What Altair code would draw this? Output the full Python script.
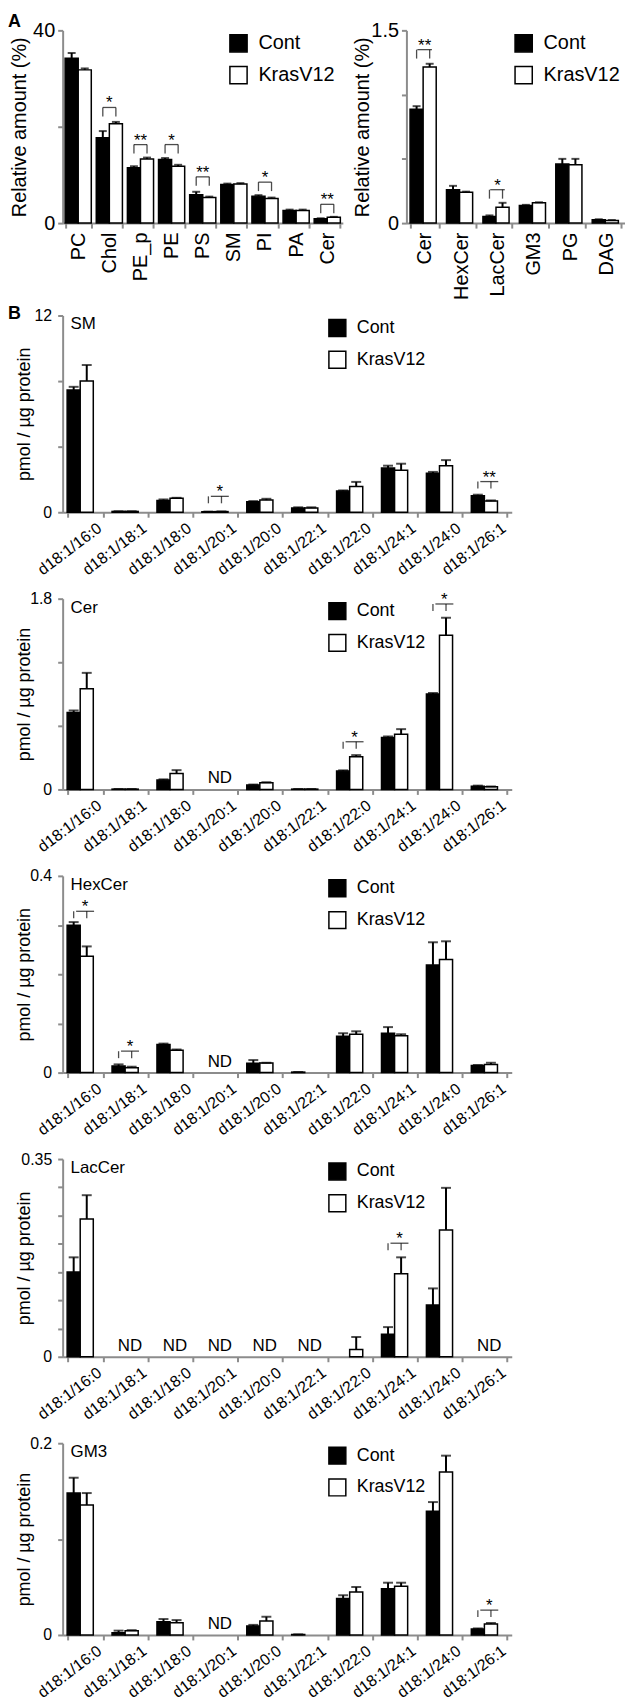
import altair as alt
import pandas as pd

FONT = "Liberation Sans"
GROUPS = ["Cont", "KrasV12"]

# ---------------- Panel A (left) ----------------
a1_cats = ["PC", "Chol", "PE_p", "PE", "PS", "SM", "PI", "PA", "Cer"]
a1_cont = [34.2, 17.7, 11.5, 13.2, 5.9, 8.0, 5.6, 2.6, 0.9]
a1_cont_err = [35.3, 19.1, 11.8, 13.5, 6.5, 8.2, 5.8, 2.8, 1.0]
a1_kras = [31.8, 20.6, 13.3, 11.8, 5.3, 8.1, 5.1, 2.6, 1.2]
a1_kras_err = [32.1, 21.0, 13.6, 12.1, 5.5, 8.3, 5.3, 2.8, 1.3]
a1_sig_cats = ["Chol", "PE_p", "PE", "PS", "PI", "Cer"]
a1_sig_y = [24.0, 16.3, 16.3, 9.6, 8.5, 3.9]
a1_sig_txt = ["*", "**", "*", "**", "*", "**"]

# ---------------- Panel A (right) ----------------
a2_cats = ["Cer", "HexCer", "LacCer", "GM3", "PG", "DAG"]
a2_cont = [0.887, 0.26, 0.052, 0.137, 0.46, 0.026]
a2_cont_err = [0.91, 0.29, 0.06, 0.142, 0.50, 0.03]
a2_kras = [1.215, 0.24, 0.124, 0.158, 0.455, 0.02]
a2_kras_err = [1.24, 0.245, 0.158, 0.162, 0.50, 0.024]
a2_sig_cats = ["Cer", "LacCer"]
a2_sig_y = [1.35, 0.26]
a2_sig_txt = ["**", "*"]

# ---------------- Panel B ----------------
b_cats = ["d18:1/16:0", "d18:1/18:1", "d18:1/18:0", "d18:1/20:1", "d18:1/20:0",
          "d18:1/22:1", "d18:1/22:0", "d18:1/24:1", "d18:1/24:0", "d18:1/26:1"]

sm_cont = [7.45, 0.05, 0.72, 0.03, 0.64, 0.26, 1.29, 2.70, 2.38, 1.00]
sm_cont_err = [7.65, 0.06, 0.78, 0.04, 0.68, 0.30, 1.33, 2.84, 2.46, 1.07]
sm_kras = [8.01, 0.05, 0.85, 0.04, 0.74, 0.26, 1.57, 2.56, 2.84, 0.68]
sm_kras_err = [8.98, 0.06, 0.88, 0.05, 0.82, 0.30, 1.85, 2.96, 3.18, 0.72]
sm_sig_cats = ["d18:1/20:1", "d18:1/26:1"]
sm_sig_y = [0.97, 1.87]
sm_sig_txt = ["*", "**"]
sm_nd = []

cer_cont = [0.726, 0.003, 0.088, None, 0.041, 0.003, 0.173, 0.49, 0.90, 0.031]
cer_cont_err = [0.745, 0.004, 0.095, None, 0.046, 0.004, 0.18, 0.50, 0.91, 0.036]
cer_kras = [0.949, 0.003, 0.151, None, 0.063, 0.003, 0.308, 0.52, 1.455, 0.025]
cer_kras_err = [1.10, 0.004, 0.182, None, 0.068, 0.004, 0.324, 0.569, 1.62, 0.028]
cer_sig_cats = ["d18:1/22:0", "d18:1/24:0"]
cer_sig_y = [0.45, 1.75]
cer_sig_txt = ["*", "*"]
cer_nd = ["d18:1/20:1"]

hex_cont = [0.2995, 0.0134, 0.057, None, 0.0188, 0.001, 0.0737, 0.080, 0.219, 0.0147]
hex_cont_err = [0.306, 0.0167, 0.059, None, 0.0255, 0.0012, 0.080, 0.0925, 0.265, 0.0155]
hex_kras = [0.2365, 0.010, 0.0456, None, 0.0194, None, 0.078, 0.075, 0.23, 0.0167]
hex_kras_err = [0.2566, 0.012, 0.047, None, 0.020, None, 0.084, 0.078, 0.267, 0.020]
hex_sig_cats = ["d18:1/16:0", "d18:1/18:1"]
hex_sig_y = [0.328, 0.0435]
hex_sig_txt = ["*", "*"]
hex_nd = ["d18:1/20:1"]

lac_cont = [0.150, None, None, None, None, None, None, 0.040, 0.0916, None]
lac_cont_err = [0.176, None, None, None, None, None, None, 0.0525, 0.121, None]
lac_kras = [0.244, None, None, None, None, None, 0.0128, 0.147, 0.2246, None]
lac_kras_err = [0.286, None, None, None, None, None, 0.035, 0.176, 0.299, None]
lac_sig_cats = ["d18:1/24:1"]
lac_sig_y = [0.201]
lac_sig_txt = ["*"]
lac_nd = ["d18:1/18:1", "d18:1/18:0", "d18:1/20:1", "d18:1/20:0", "d18:1/22:1", "d18:1/26:1"]

gm3_cont = [0.148, 0.0024, 0.0138, None, 0.0093, 0.0005, 0.038, 0.0483, 0.129, 0.0062]
gm3_cont_err = [0.164, 0.0045, 0.0166, None, 0.0105, 0.0006, 0.0414, 0.0545, 0.1386, 0.0068]
gm3_kras = [0.1355, 0.0045, 0.0128, None, 0.0145, None, 0.0448, 0.0507, 0.170, 0.0114]
gm3_kras_err = [0.148, 0.005, 0.0155, None, 0.019, None, 0.05, 0.0545, 0.187, 0.0125]
gm3_sig_cats = ["d18:1/26:1"]
gm3_sig_y = [0.0259]
gm3_sig_txt = ["*"]
gm3_nd = ["d18:1/20:1"]

AXIS_GRAY = "#8c8c8c"
LEFT_EDGE = -55


def build_panel(cats, cont, cont_err, kras, kras_err, sig_cats, sig_y, sig_txt, nd_cats,
                ymax, yticks, ytitle, name, letter, st):
    rows = []
    for i, c in enumerate(cats):
        for g, v, e in ((GROUPS[0], cont[i], cont_err[i]), (GROUPS[1], kras[i], kras_err[i])):
            if v is not None:
                rows.append({"cat": c, "group": g, "value": v, "err": e})
    bars_df = pd.DataFrame(rows)
    n = len(cats)
    pad = st["pad"]
    step = st["width"] / n
    barw = step * (1 - pad) / 2
    own_labels = st.get("own_labels", False)

    x_axis = alt.Axis(title=None, tickBand="extent", labelAngle=st["xangle"], labelAlign="right",
                      labelBaseline=st["xbaseline"], labelFontSize=st["xfs"],
                      labelPadding=st["xlabpad"], labelColor="black", tickSize=5,
                      labels=not own_labels, labelOverlap=False, labelLimit=300)
    xenc = alt.X("cat:N", sort=cats,
                 scale=alt.Scale(domain=cats, paddingInner=pad, paddingOuter=pad / 2),
                 axis=x_axis)
    xoff = alt.XOffset("group:N", sort=GROUPS,
                       scale=alt.Scale(domain=GROUPS, paddingInner=0, paddingOuter=0))
    y_axis = alt.Axis(title=ytitle, values=yticks, format="~r",
                      labelExpr=f"datum.value == 0 || abs(datum.value - {ymax}) < 1e-9 ? datum.label : ''",
                      labelFontSize=st["yfs"], titleFontSize=st["tfs"], titleFontWeight="normal",
                      titleColor="black", labelColor="black", tickSize=5,
                      labelPadding=st["ylabpad"], minExtent=st["yext"], maxExtent=st["yext"],
                      titlePadding=st["tpad"])
    yscale = alt.Scale(domain=[0, ymax], nice=False, zero=True)

    def Y(field):
        return alt.Y(f"{field}:Q", scale=yscale, axis=y_axis)

    fill = alt.Fill("group:N", sort=GROUPS,
                    scale=alt.Scale(domain=GROUPS, range=["black", "white"]),
                    legend=alt.Legend(title=None, orient="none", legendX=st["lx"], legendY=st["ly"],
                                      direction="vertical", symbolType="square",
                                      symbolSize=st["ssize"], symbolStrokeColor="black",
                                      symbolStrokeWidth=1.5, labelFontSize=st["lfs"],
                                      labelColor="black", labelOffset=10, rowPadding=st["rowpad"],
                                      padding=0, labelLimit=300))

    base = alt.Chart(bars_df)
    bars = base.mark_bar(stroke="black", strokeWidth=1.5).encode(
        x=xenc, xOffset=xoff, y=Y("value"), fill=fill)
    errs = base.mark_rule(color="black", strokeWidth=2).encode(
        x=xenc, xOffset=xoff, y=Y("value"), y2=alt.Y2("err:Q"))
    caps = base.mark_tick(color="black", thickness=2, size=st["cap"]).encode(
        x=xenc, xOffset=xoff, y=Y("err"))
    layers = [bars, errs, caps]

    if own_labels:
        # angled category labels, anchored just right of each band centre
        lab_df = pd.DataFrame({"cat": cats})
        xl = alt.Chart(lab_df).mark_text(
            angle=st["xangle"], align="right", baseline="top", fontSize=st["xfs"],
            xOffset=st["xoff"], color="black").encode(
            x=xenc, y=alt.value(st["height"] + 5 + st["xlabpad"]), text="cat:N")
        layers.append(xl)

    if sig_cats:
        sig_df = pd.DataFrame({"cat": sig_cats, "sy": sig_y, "txt": sig_txt})
        leg_rows = [{"cat": c, "group": g, "sy": y} for c, y in zip(sig_cats, sig_y) for g in GROUPS]
        leg_df = pd.DataFrame(leg_rows)
        L = st["leg"]
        hbr = alt.Chart(sig_df).mark_tick(color="black", thickness=1.3, size=barw).encode(
            x=xenc, y=Y("sy"))
        legs = alt.Chart(leg_df).mark_tick(color="black", thickness=1.3, size=L,
                                           orient="vertical", yOffset=L / 2).encode(
            x=xenc, xOffset=xoff, y=Y("sy"))
        stars = alt.Chart(sig_df).mark_text(fontSize=17, baseline="alphabetic", dy=st["stardy"],
                                            color="black").encode(
            x=xenc, y=Y("sy"), text="txt:N")
        layers += [hbr, legs, stars]

    if nd_cats:
        nd_df = pd.DataFrame({"cat": nd_cats, "zero": [0] * len(nd_cats), "txt": ["ND"] * len(nd_cats)})
        nd = alt.Chart(nd_df).mark_text(fontSize=17, baseline="bottom", dy=-2, color="black").encode(
            x=xenc, y=Y("zero"), text="txt:N")
        layers.append(nd)

    if name:
        lab = alt.Chart(pd.DataFrame({"t": [name]})).mark_text(
            align="left", baseline="top", fontSize=17, color="black").encode(
            x=alt.value(8), y=alt.value(1), text="t:N")
        layers.append(lab)

    top = st["top"]
    # invisible layout spacer: fixes the top-left corner of every panel's bounds
    spacer = alt.Chart(pd.DataFrame({"k": [0]})).mark_rule(color="white", opacity=0, strokeWidth=1).encode(
        x=alt.value(LEFT_EDGE), x2=alt.value(LEFT_EDGE + 1), y=alt.value(top), y2=alt.value(top))
    layers.append(spacer)

    if letter:
        let = alt.Chart(pd.DataFrame({"t": [letter]})).mark_text(
            align="left", baseline="top", fontSize=18, fontWeight="bold", color="black").encode(
            x=alt.value(LEFT_EDGE), y=alt.value(top), text="t:N")
        layers.append(let)

    return alt.layer(*layers).properties(width=st["width"], height=st["height"])


A_STYLE = dict(pad=0.16, xangle=270, xbaseline="middle", xfs=20, xlabpad=4, xoff=0,
               yfs=20, tfs=20, ylabpad=3, yext=29, tpad=4,
               lx=167, ly=3, ssize=300, lfs=20, rowpad=8,
               cap=8, leg=9, stardy=1, width=282, height=194, top=-17)
A2_STYLE = dict(A_STYLE, pad=0.2, width=220, yext=30, lx=108)

B_STYLE = dict(pad=0.2, xangle=323, xbaseline="top", xfs=16, xlabpad=3, xoff=10, own_labels=True,
               yfs=16, tfs=18, ylabpad=6, yext=27, tpad=2,
               lx=267, ly=3, ssize=290, lfs=18, rowpad=7,
               cap=10, leg=7, stardy=1, width=452, height=198, top=-10)

a_left = build_panel(a1_cats, a1_cont, a1_cont_err, a1_kras, a1_kras_err,
                     a1_sig_cats, a1_sig_y, a1_sig_txt, [],
                     40, [0, 20, 40], "Relative amount (%)", None, "A", A_STYLE)
a_right = build_panel(a2_cats, a2_cont, a2_cont_err, a2_kras, a2_kras_err,
                      a2_sig_cats, a2_sig_y, a2_sig_txt, [],
                      1.5, [0, 0.5, 1.0, 1.5], "Relative amount (%)", None, None, A2_STYLE)

top_row = alt.hconcat(a_left, a_right, spacing=9).resolve_scale(
    fill="independent", x="independent", y="independent")

ytitle_b = "pmol / µg protein"
sm = build_panel(b_cats, sm_cont, sm_cont_err, sm_kras, sm_kras_err,
                 sm_sig_cats, sm_sig_y, sm_sig_txt, sm_nd,
                 12, [0, 4, 8, 12], ytitle_b, "SM", "B", dict(B_STYLE, height=198))
cer = build_panel(b_cats, cer_cont, cer_cont_err, cer_kras, cer_kras_err,
                  cer_sig_cats, cer_sig_y, cer_sig_txt, cer_nd,
                  1.8, [0, 0.6, 1.2, 1.8], ytitle_b, "Cer", None, dict(B_STYLE, height=192))
hexc = build_panel(b_cats, hex_cont, hex_cont_err, hex_kras, hex_kras_err,
                   hex_sig_cats, hex_sig_y, hex_sig_txt, hex_nd,
                   0.4, [0, 0.1, 0.2, 0.3, 0.4], ytitle_b, "HexCer", None, dict(B_STYLE, height=198))
lac = build_panel(b_cats, lac_cont, lac_cont_err, lac_kras, lac_kras_err,
                  lac_sig_cats, lac_sig_y, lac_sig_txt, lac_nd,
                  0.35, [0, 0.05, 0.1, 0.15, 0.2, 0.25, 0.3, 0.35], ytitle_b, "LacCer", None,
                  dict(B_STYLE, height=199))
gm3 = build_panel(b_cats, gm3_cont, gm3_cont_err, gm3_kras, gm3_kras_err,
                  gm3_sig_cats, gm3_sig_y, gm3_sig_txt, gm3_nd,
                  0.2, [0, 0.1, 0.2], ytitle_b, "GM3", None, dict(B_STYLE, height=193))

b_block = alt.vconcat(sm, cer, hexc, lac, gm3, spacing=10).resolve_scale(
    fill="independent", x="independent", y="independent")

chart = alt.vconcat(top_row, b_block, spacing=6).resolve_scale(
    fill="independent", x="independent", y="independent"
).properties(
    padding={"left": 0, "top": 0, "right": 0, "bottom": 0}
).configure(font=FONT).configure_view(strokeWidth=0).configure_axis(
    domainColor=AXIS_GRAY, domainWidth=2, tickColor=AXIS_GRAY, tickWidth=2, grid=False,
    labelFont=FONT, titleFont=FONT
).configure_legend(labelFont=FONT).configure_text(font=FONT)

chart.save("out.html", embed_options={"renderer": "svg", "actions": False})
